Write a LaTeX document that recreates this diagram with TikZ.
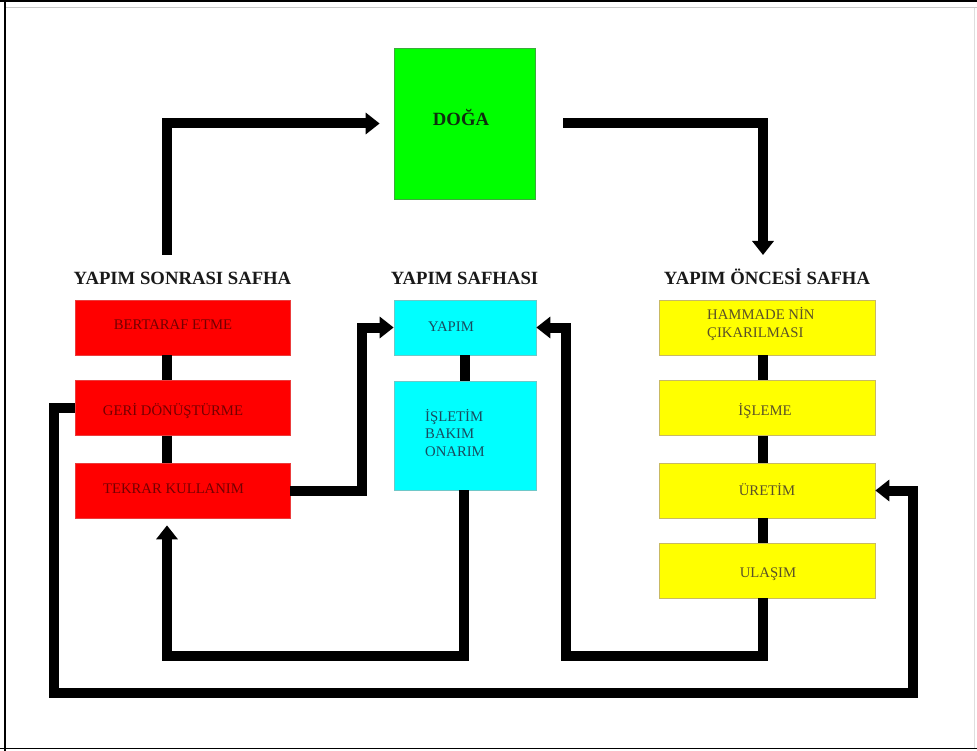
\documentclass[tikz,border=0pt]{standalone}
\usepackage{fontspec}
\setmainfont{Liberation Serif}
\usetikzlibrary{arrows.meta}
\definecolor{boxred}{RGB}{255,0,0}
\definecolor{rededge}{RGB}{235,60,60}
\definecolor{redtext}{RGB}{115,0,0}
\definecolor{boxcyan}{RGB}{0,255,255}
\definecolor{cyanedge}{RGB}{110,200,200}
\definecolor{cyantext}{RGB}{25,75,95}
\definecolor{boxyellow}{RGB}{255,255,0}
\definecolor{yellowedge}{RGB}{200,185,100}
\definecolor{yellowtext}{RGB}{90,80,40}
\definecolor{boxgreen}{RGB}{0,255,0}
\definecolor{greenedge}{RGB}{60,170,60}
\definecolor{greentext}{RGB}{15,45,15}
\definecolor{framegrey}{RGB}{200,200,200}
\begin{document}
\begin{tikzpicture}[x=1pt,y=-1pt,
  box/.style={rectangle, inner sep=0pt, line width=0.7pt},
  redbox/.style={box, fill=boxred, draw=rededge, minimum width=215pt, minimum height=55pt},
  cyanbox/.style={box, fill=boxcyan, draw=cyanedge, minimum width=142pt},
  yellowbox/.style={box, fill=boxyellow, draw=yellowedge, minimum width=216pt, minimum height=55pt},
  greenbox/.style={box, fill=boxgreen, draw=greenedge, minimum width=141pt, minimum height=151pt},
  title/.style={font=\fontsize{18.7}{22}\selectfont\bfseries, anchor=base, inner sep=0pt, text=black!90},
  txt/.style={font=\fontsize{14.7}{17.3}\selectfont, anchor=base, inner sep=0pt},
  redtxt/.style={txt, text=redtext},
  cyantxt/.style={txt, text=cyantext},
  yellowtxt/.style={txt, text=yellowtext},
  conn/.style={line width=10pt, line join=miter, line cap=butt, draw=black},
  arr/.style={conn, -{Triangle[width=21pt,length=14pt]}},
]
\useasboundingbox (0,0) rectangle (977,751);
% frame
\draw[framegrey, line width=1pt] (5,8) -- (977,8);
\draw[framegrey!60, line width=0.8pt] (974,8) -- (974,748);
\draw[black, line width=1.6pt] (0,0.8) -- (977,0.8);
\draw[black, line width=1.6pt] (5,0) -- (5,751);
\draw[black, line width=1.6pt] (0,748.5) -- (977,748.5);

% DOGA
\node[greenbox] (doga) at (464.5,123.5) {};
\node[title, text=greentext] (dogat) at (461,126) {DOĞA};

% titles
\node[title] (tsonra) at (182.5,284) {YAPIM SONRASI SAFHA};
\node[title] (tyapim) at (464.5,284) {YAPIM SAFHASI};
\node[title] (tonce) at (767,284) {YAPIM ÖNCESİ SAFHA};

% red boxes
\node[redbox] (bert) at (182.5,327.5) {};
\node[redbox] (geri) at (182.5,408) {};
\node[redbox] (tekrar) at (182.5,490.5) {};
\node[redtxt] (bertt) at (173,329.5) {BERTARAF ETME};
\node[redtxt] (gerit) at (173,415) {GERİ DÖNÜŞTÜRME};
\node[redtxt] (tekrart) at (173.5,493) {TEKRAR KULLANIM};

% cyan boxes
\node[cyanbox, minimum height=55pt] (yapim) at (465,327.5) {};
\node[cyanbox, minimum height=109pt] (islet) at (465,435.5) {};
\node[cyantxt] (yapimt) at (451,331) {YAPIM};
\node[cyantxt, anchor=base west, align=left] (islett) at (425,456) {İŞLETİM\\BAKIM\\ONARIM};

% yellow boxes
\node[yellowbox] (hamm) at (767,327.5) {};
\node[yellowbox] (isle) at (767,408) {};
\node[yellowbox] (uret) at (767,490.5) {};
\node[yellowbox] (ulas) at (767,570.5) {};
\node[yellowtxt, anchor=base west, align=left] (hammt) at (707,337) {HAMMADE NİN\\ÇIKARILMASI};
\node[yellowtxt] (islet2) at (765,415) {İŞLEME};
\node[yellowtxt] (urett) at (767,495) {ÜRETİM};
\node[yellowtxt] (ulast) at (768,577) {ULAŞIM};

% vertical links inside columns
\draw[conn] ([xshift=-15.5pt]bert.south) -- ([xshift=-15.5pt]geri.north);
\draw[conn] ([xshift=-15.5pt]geri.south) -- ([xshift=-15.5pt]tekrar.north);
\draw[conn] (yapim.south) -- (islet.north);
\draw[conn] ([xshift=-4pt]hamm.south) -- ([xshift=-4pt]isle.north);
\draw[conn] ([xshift=-4pt]isle.south) -- ([xshift=-4pt]uret.north);
\draw[conn] ([xshift=-4pt]uret.south) -- ([xshift=-4pt]ulas.north);

% free ends
\coordinate (s1) at (167,255);
\coordinate (e2) at (763,255);
\coordinate (c4) at (464,656);
\coordinate (c5) at (566,656);
\coordinate (c6) at (913,693);

% connectors
\draw[arr] (s1) |- ([xshift=-14pt]doga.west);
\draw[arr] ([xshift=28pt]doga.east) -| (e2);
\draw[arr] (tekrar.east) -- ++(72,0) |- (yapim.west);
\draw[arr] ([xshift=-1pt]islet.south) |- (c4) -| ([xshift=-15.5pt,yshift=-7pt]tekrar.south);
\draw[arr] ([xshift=-4pt]ulas.south) |- (c5) |- (yapim.east);
\draw[arr] (geri.west) -- ++(-21,0) |- (c6) |- (uret.east);
\end{tikzpicture}
\end{document}
